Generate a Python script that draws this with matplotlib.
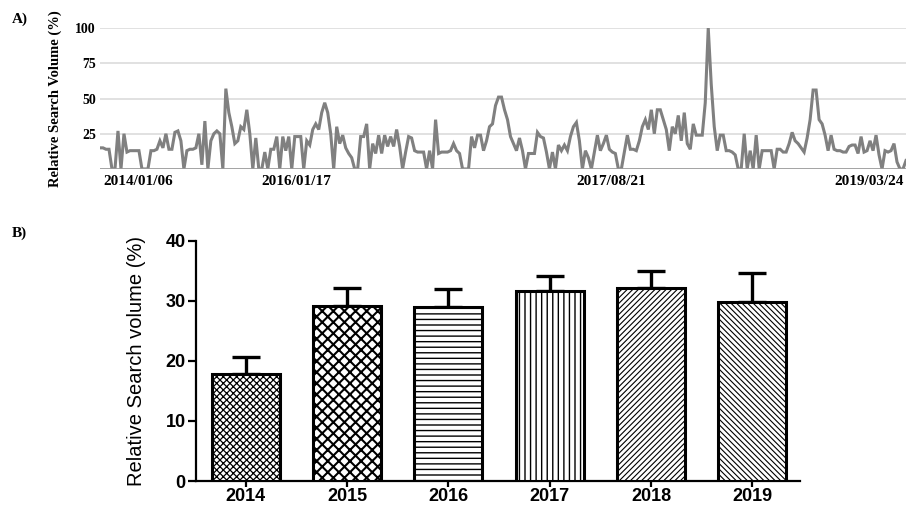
import matplotlib
matplotlib.use('Agg')
import matplotlib.pyplot as plt
import numpy as np

# ---------------------------------------------------------------------------
# Data
# ---------------------------------------------------------------------------

# A) weekly relative search volume (%)
trend_values = [
    15, 15, 14, 14, 0, 0, 27, 0, 25, 12, 13, 13, 13, 13, 0, 0, 0, 13, 13, 14,
    20, 15, 25, 14, 14, 26, 27, 20, 0, 13, 14, 14, 15, 25, 3, 34, 0, 20, 25, 27,
    25, 0,
    57, 40, 30, 18, 20, 30, 28, 42, 25, 0, 22, 0, 0, 12, 0, 14, 14, 23, 0, 23,
    13, 23, 0, 23, 23, 23, 0, 20, 17, 28, 32, 28, 40, 47, 40, 25,
    0, 30, 18, 24, 15, 11, 8, 0, 0, 23, 23, 32, 0, 18, 11, 24, 11, 24, 16, 23,
    16, 28, 16, 0, 12, 23, 22, 13, 12, 12, 12, 0, 13, 0, 35, 11, 12, 12,
    12, 13, 18, 13, 11, 0, 0, 0, 23, 15, 24, 24, 13, 20, 30, 32, 45, 51, 51, 42,
    35, 23, 18, 13, 22, 13, 0, 11, 11, 11, 26, 23, 22, 12, 0, 12, 0, 17,
    13, 17, 13, 23, 30, 33, 20, 0, 13, 8, 0, 12, 24, 13, 18, 24, 14, 12, 11, 0,
    0, 12, 24, 14, 14, 13, 20, 30, 35, 28, 42, 25, 42, 42, 35, 28, 13, 30,
    25, 38, 20, 40, 18, 14, 32, 24, 24, 24, 47, 100, 60, 30, 13, 24, 24, 13, 13, 12,
    10, 0, 0, 25, 0, 13, 0, 24, 0, 13, 13, 13, 13, 0, 14, 14, 12, 12, 18,
    26, 20, 18, 15, 12, 22, 35, 56, 56, 35, 32, 24, 13, 24, 14, 13, 13, 12, 12, 16,
    17, 17, 11, 23, 12, 13, 20, 13, 24, 10, 0, 13, 12, 13, 18, 5, 0, 0, 6,
]
trend_tick_labels = ['2014/01/06', '2016/01/17', '2017/08/21', '2019/03/24']
trend_tick_idx = [1, 54, 159, 245]

# B) yearly mean relative search volume (%) with upper error
years = ['2014', '2015', '2016', '2017', '2018', '2019']
year_means = [17.8, 29.2, 28.9, 31.6, 32.2, 29.8]
year_errs = [2.8, 3.0, 3.0, 2.6, 2.7, 4.9]

hatches = ['xxxxx', 'xxx', '---', '|||', '//////', '\\\\\\\\\\\\']
hatch_lws = [0.9, 1.5, 1.0, 1.0, 0.8, 0.8]

# ---------------------------------------------------------------------------
# Figure
# ---------------------------------------------------------------------------
plt.rcParams['hatch.linewidth'] = 1.0
fig = plt.figure(figsize=(9.07, 5.08), dpi=100)

serif = 'Liberation Serif'
sans = 'Liberation Sans'

# ---- A) trend line ----
ax1 = fig.add_axes([100 / 907, 1 - 169 / 508, 806 / 907, 141 / 508])
ax1.plot(np.arange(len(trend_values)), trend_values, color='#808080', lw=2.2,
         solid_joinstyle='miter')
ax1.set_xlim(0, len(trend_values) - 1)
ax1.set_ylim(0, 100)
ax1.set_yticks([25, 50, 75, 100])
ax1.set_yticklabels(['25', '50', '75', '100'], fontfamily=serif,
                    fontweight='bold', fontsize=10)
ax1.yaxis.grid(True, color='#dcdcdc', lw=1.2)
ax1.axhline(0, color='#9a9a9a', lw=2)
ax1.set_axisbelow(True)
for s in ax1.spines.values():
    s.set_visible(False)
ax1.tick_params(axis='y', length=0, pad=3)
ax1.set_xticks(trend_tick_idx)
ax1.set_xticklabels(trend_tick_labels, fontfamily=serif, fontweight='bold',
                    fontsize=11, ha='left')
ax1.tick_params(axis='x', length=0, pad=4)
ax1.set_ylabel('Relative Search Volume (%)', fontfamily=serif,
               fontweight='bold', fontsize=10.5)
ax1.yaxis.set_label_coords(-0.047, 0.5)
fig.text(12 / 907, 1 - 19 / 508, 'A)', fontfamily=serif, fontweight='bold',
         fontsize=11, va='center')

# ---- B) yearly bars ----
ax2 = fig.add_axes([196 / 907, 1 - 481 / 508, 604 / 907, 240.3 / 508])
x = np.arange(len(years))
bars = ax2.bar(x, year_means, width=0.67, color='white', edgecolor='black',
               linewidth=2.2, zorder=3)
for b, h, hlw in zip(bars, hatches, hatch_lws):
    b.set_hatch(h)
    if hasattr(b, 'set_hatch_linewidth'):
        b.set_hatch_linewidth(hlw)
ax2.errorbar(x, year_means, yerr=[np.zeros(len(years)), year_errs], fmt='none',
             ecolor='black', elinewidth=2.4, capsize=10, capthick=2.4, zorder=2)
ax2.set_xlim(-0.49, 5.47)
ax2.set_ylim(0, 40)
ax2.set_yticks([0, 10, 20, 30, 40])
ax2.set_xticks(x)
ax2.set_xticklabels(years, fontfamily=sans, fontweight='bold', fontsize=13)
for lab in ax2.get_yticklabels():
    lab.set_fontfamily(sans)
    lab.set_fontweight('bold')
    lab.set_fontsize(13)
ax2.spines['top'].set_visible(False)
ax2.spines['right'].set_visible(False)
ax2.spines['left'].set_linewidth(1.6)
ax2.spines['bottom'].set_linewidth(1.6)
ax2.tick_params(axis='y', length=6, width=1.6, pad=1.5)
ax2.tick_params(axis='x', length=4, width=1.6, pad=1)
ax2.set_ylabel('Relative Search volume (%)', fontfamily=sans, fontsize=14.5)
ax2.yaxis.set_label_coords(-0.083, 0.5)
fig.text(12 / 907, 1 - 233 / 508, 'B)', fontfamily=serif, fontweight='bold',
         fontsize=11, va='center')

plt.savefig('out.png', dpi=100)
